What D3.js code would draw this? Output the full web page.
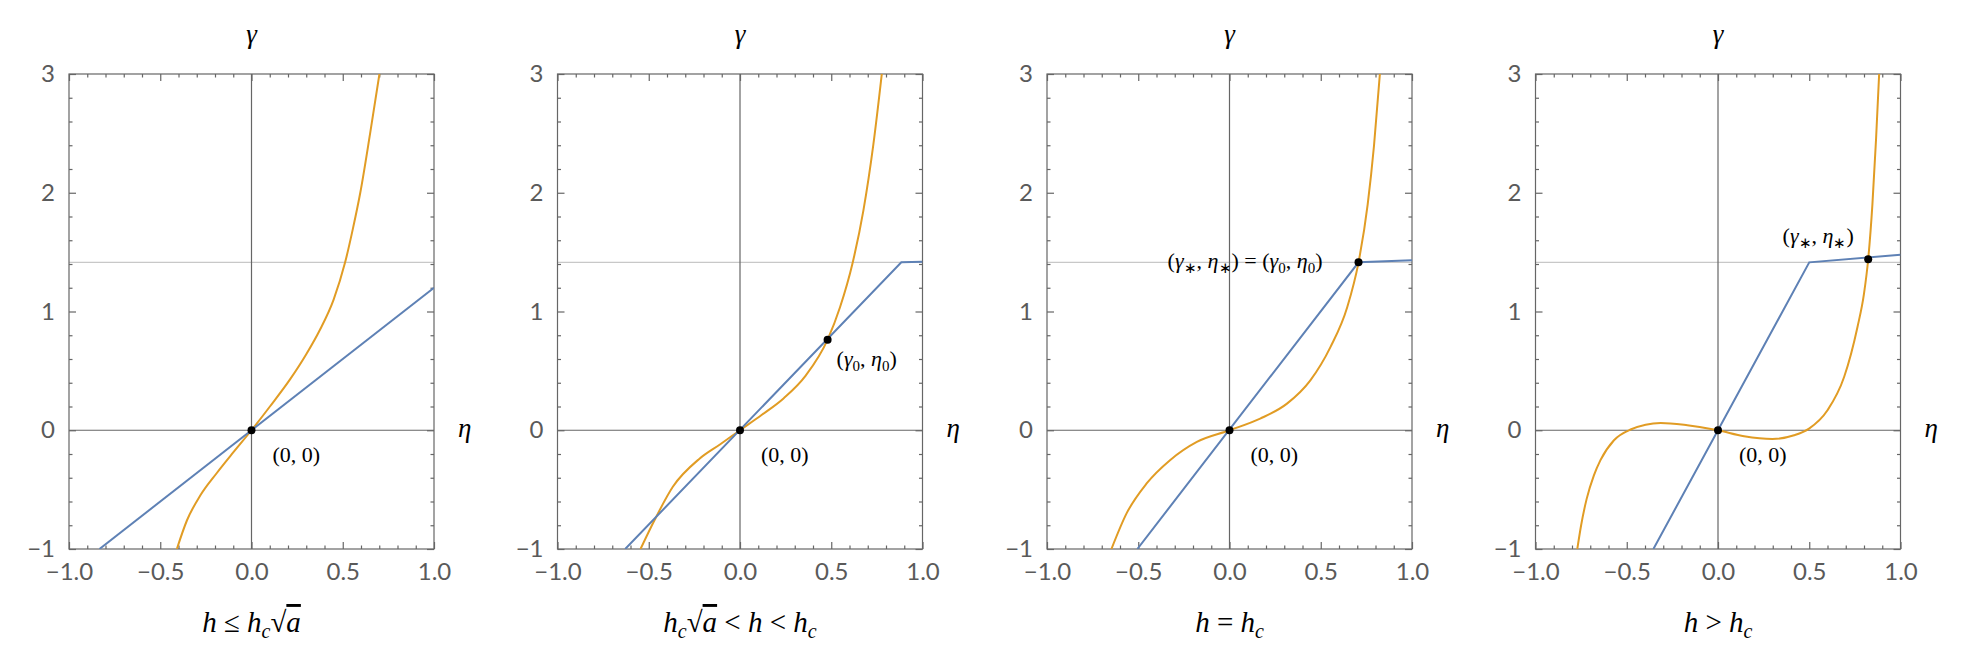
<!DOCTYPE html>
<html>
<head>
<meta charset="utf-8">
<script src="https://cdn.jsdelivr.net/npm/d3@7"></script>
<style>
  body { margin: 0; background: #fff; }
  .tick text { font-family: Lato, "Open Sans", sans-serif; font-size: 24px; fill: #5a5a5a; }
</style>
</head>
<body>
<div id="content"></div>
<script>
// datas as [eta, gamma]
const xTicks = [-1, -0.5, 0, 0.5, 1];
const yTicks = [-1, 0, 1, 2, 3];
const gammaStar = 1.414;

const blue1 = [[-0.833, -1], [1, 1.2]];
const blue2 = [[-0.629, -1], [0.884, 1.414], [1, 1.418]];
const blue3 = [[-0.505, -1], [0.707, 1.414], [1, 1.432]];
const blue4 = [[-0.354, -1], [0.5, 1.414], [1, 1.478]];

const orange1 = [[-0.409, -1], [-0.354, -0.76], [-0.281, -0.55], [-0.19, -0.36], [-0.099, -0.185],
  [0, 0], [0.102, 0.202], [0.212, 0.43], [0.3, 0.64], [0.373, 0.84], [0.45, 1.1], [0.513, 1.414],
  [0.556, 1.7], [0.596, 2.0], [0.65, 2.5], [0.701, 3]];
const orange2 = [[-0.545, -1], [-0.468, -0.756], [-0.368, -0.476], [-0.222, -0.24], [-0.11, -0.12],
  [0, 0], [0.12, 0.13], [0.24, 0.27], [0.36, 0.46], [0.48, 0.763], [0.548, 1.036], [0.617, 1.409],
  [0.676, 1.849], [0.731, 2.409], [0.777, 3]];
const orange3 = [[-0.647, -1], [-0.564, -0.70], [-0.454, -0.448], [-0.326, -0.252], [-0.179, -0.098],
  [0, 0], [0.168, 0.098], [0.315, 0.224], [0.443, 0.42], [0.553, 0.70], [0.645, 1.036],
  [0.707, 1.414], [0.757, 1.90], [0.792, 2.40], [0.824, 3]];
const orange4 = [[-0.771, -1], [-0.75, -0.8], [-0.72, -0.58], [-0.68, -0.38], [-0.644, -0.252],
  [-0.570, -0.084], [-0.479, 0.006], [-0.314, 0.062], [-0.168, 0.042], [0, 0], [0.143, -0.05],
  [0.298, -0.073], [0.417, -0.042], [0.499, 0.014], [0.60, 0.168], [0.691, 0.448], [0.764, 0.868],
  [0.80, 1.15], [0.823, 1.44], [0.846, 1.90], [0.866, 2.45], [0.883, 3]];

const dots1 = [[0, 0]];
const dots2 = [[0, 0], [0.48, 0.763]];
const dots3 = [[0, 0], [0.707, 1.414]];
const dots4 = [[0, 0], [0.823, 1.44]];

const panels = [
  {blue: blue1, orange: orange1, dots: dots1},
  {blue: blue2, orange: orange2, dots: dots2},
  {blue: blue3, orange: orange3, dots: dots3},
  {blue: blue4, orange: orange4, dots: dots4}
];

// view
const W = 1972, H = 661;
const lefts = [69, 557.5, 1047, 1535.5];
const pw = 365, topY = 74, ph = 475;
const serif = "'Liberation Serif', 'Times New Roman', serif";

const svg = d3.select("#content").append("svg")
  .attr("width", W).attr("height", H);

const fmtX = d => d3.format(".1f")(d);
const fmtY = d => d3.format("d")(d);
const minorX = d3.range(-10, 11).map(d => d / 10).filter(d => Math.abs(d * 2 - Math.round(d * 2)) > 1e-6);
const minorY = d3.range(-5, 16).map(d => d / 5).filter(d => Math.abs(d - Math.round(d)) > 1e-6);

panels.forEach((p, i) => {
  const g = svg.append("g").attr("transform", `translate(${lefts[i]},${topY})`);
  const x = d3.scaleLinear().domain([-1, 1]).range([0, pw]);
  const y = d3.scaleLinear().domain([-1, 3]).range([ph, 0]);

  g.append("clipPath").attr("id", "clip" + i)
    .append("rect").attr("width", pw).attr("height", ph);

  // grid line at sqrt 2 and zero axes
  g.append("line").attr("x1", 0).attr("x2", pw)
    .attr("y1", y(gammaStar)).attr("y2", y(gammaStar))
    .attr("stroke", "#c8c8c8").attr("stroke-width", 1.2);
  g.append("line").attr("x1", 0).attr("x2", pw).attr("y1", y(0)).attr("y2", y(0))
    .attr("stroke", "#666").attr("stroke-width", 1.2);
  g.append("line").attr("y1", 0).attr("y2", ph).attr("x1", x(0)).attr("x2", x(0))
    .attr("stroke", "#666").attr("stroke-width", 1.2);

  // frame ticks
  const axes = [
    [d3.axisBottom(x).tickValues(xTicks).tickFormat(fmtX), `translate(0,${ph})`, true],
    [d3.axisBottom(x).tickValues(minorX).tickFormat(""), `translate(0,${ph})`, false],
    [d3.axisTop(x).tickValues(xTicks).tickFormat(""), null, true],
    [d3.axisTop(x).tickValues(minorX).tickFormat(""), null, false],
    [d3.axisLeft(y).tickValues(yTicks).tickFormat(fmtY), null, true],
    [d3.axisLeft(y).tickValues(minorY).tickFormat(""), null, false],
    [d3.axisRight(y).tickValues(yTicks).tickFormat(""), `translate(${pw},0)`, true],
    [d3.axisRight(y).tickValues(minorY).tickFormat(""), `translate(${pw},0)`, false]
  ];
  axes.forEach(([ax, tr, major]) => {
    ax.tickSizeInner(major ? -7 : -3.5).tickSizeOuter(0).tickPadding(major ? 14 : 0);
    const a = g.append("g").call(ax);
    if (tr) a.attr("transform", tr);
    a.select(".domain").remove();
    a.selectAll(".tick line").attr("stroke", "#666").attr("stroke-width", 1.2);
  });

  g.append("rect").attr("width", pw).attr("height", ph)
    .attr("fill", "none").attr("stroke", "#666").attr("stroke-width", 1.2);

  const line = d3.line().x(d => x(d[0])).y(d => y(d[1]));
  const plot = g.append("g").attr("clip-path", `url(#clip${i})`);
  plot.append("path").datum(p.orange)
    .attr("d", d3.line().x(d => x(d[0])).y(d => y(d[1])).curve(d3.curveMonotoneX))
    .attr("fill", "none").attr("stroke", "#e19c24").attr("stroke-width", 2);
  plot.append("path").datum(p.blue)
    .attr("d", line)
    .attr("fill", "none").attr("stroke", "#5e81b5").attr("stroke-width", 2);

  g.selectAll("circle.dot").data(p.dots).enter().append("circle")
    .attr("class", "dot")
    .attr("cx", d => x(d[0])).attr("cy", d => y(d[1])).attr("r", 4)
    .attr("fill", "#000");

  const txt = (sx, sy, size) => g.append("text")
    .attr("x", sx).attr("y", sy).attr("font-size", size)
    .style("font-family", serif).attr("fill", "#000");

  // axis names
  txt(x(0), -31, 27).attr("text-anchor", "middle").attr("font-style", "italic").text("γ");
  txt(pw + 24, y(0) + 7, 27).attr("font-style", "italic").text("η");

  // (0,0)
  txt(x(0) + 21, y(0) + 32, 22).text("(0, 0)");

  // point labels
  const pt = (sx, sy, parts, anchor) => {
    const t = txt(sx, sy, 22).attr("text-anchor", anchor || "start");
    parts.forEach(([s, kind]) => {
      const ts = t.append("tspan").text(s);
      if (kind === "i") ts.attr("font-style", "italic");
      if (kind === "sub") ts.attr("font-size", 15).attr("dy", 5);
      if (kind === "back") ts.attr("dy", -5);
    });
    return t;
  };
  const gs = [["(", ""], ["γ", "i"], ["∗", "sub"], [", ", "back"], ["η", "i"], ["∗", "sub"], [")", "back"]];
  const g0 = [["(", ""], ["γ", "i"], ["0", "sub"], [", ", "back"], ["η", "i"], ["0", "sub"], [")", "back"]];
  if (i === 1) pt(x(p.dots[1][0]) + 9, y(p.dots[1][1]) + 26, g0);
  if (i === 2) pt(x(p.dots[1][0]) - 36, y(p.dots[1][1]) + 6, gs.concat([[" = ", ""]], g0), "end");
  if (i === 3) pt(x(p.dots[1][0]) - 50, y(p.dots[1][1]) - 16, gs, "middle");

  // captions
  const cap = txt(pw / 2, 558, 29).attr("text-anchor", "middle");
  const add = (s, kind) => {
    const ts = cap.append("tspan").text(s);
    if (kind === "i") ts.attr("font-style", "italic");
    if (kind === "sub") ts.attr("font-style", "italic").attr("font-size", 20).attr("dy", 6);
    if (kind === "back") ts.attr("dy", -6);
    if (kind === "rad") ts.attr("font-style", "italic").attr("text-decoration", "overline");
    return ts;
  };
  if (i === 0) {
    add("h", "i"); add(" ≤ ", ""); add("h", "i"); add("c", "sub"); add("√", "back"); add("a", "rad");
  } else if (i === 1) {
    add("h", "i"); add("c", "sub"); add("√", "back"); add("a", "rad"); add(" < ", ""); add("h", "i");
    add(" < ", ""); add("h", "i"); add("c", "sub");
  } else if (i === 2) {
    add("h", "i"); add(" = ", ""); add("h", "i"); add("c", "sub");
  } else {
    add("h", "i"); add(" > ", ""); add("h", "i"); add("c", "sub");
  }
});
</script>
</body>
</html>
